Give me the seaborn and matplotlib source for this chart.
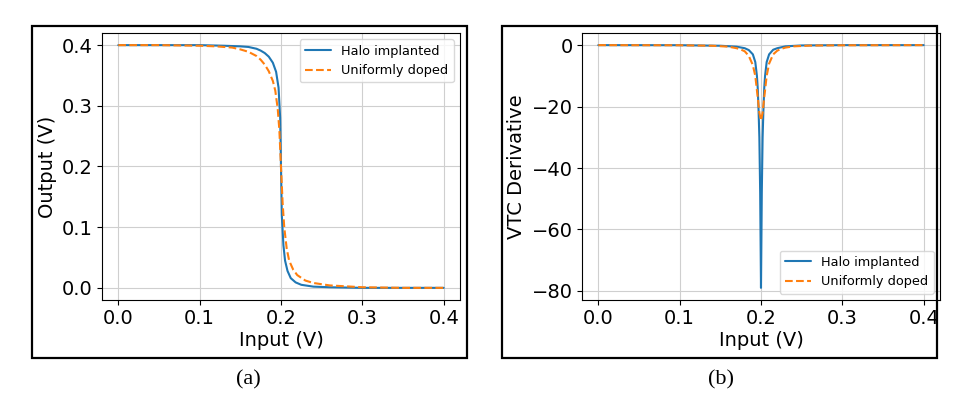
import numpy as np
import pandas as pd
import matplotlib.pyplot as plt
import seaborn as sns
from matplotlib.patches import Rectangle

# VTC, halo implanted
vtc_halo_x = [0, 0.1, 0.13, 0.15, 0.16, 0.17, 0.175, 0.18, 0.185, 0.19, 0.194, 0.197, 0.199, 0.2,
              0.201, 0.203, 0.205, 0.208, 0.212, 0.218, 0.225, 0.24, 0.26, 0.3, 0.4]
vtc_halo_y = [0.4, 0.4, 0.399, 0.398, 0.397, 0.394, 0.391, 0.387, 0.381, 0.371, 0.356, 0.33, 0.28, 0.2,
              0.12, 0.07, 0.045, 0.028, 0.016, 0.009, 0.005, 0.002, 0.001, 0.0, 0.0]

# VTC, uniformly doped
vtc_unif_x = [0, 0.05, 0.1, 0.12, 0.14, 0.15, 0.16, 0.17, 0.175, 0.18, 0.185, 0.19, 0.193, 0.196,
              0.198, 0.2, 0.202, 0.204, 0.207, 0.21, 0.215, 0.22, 0.23, 0.24, 0.26, 0.3, 0.35, 0.4]
vtc_unif_y = [0.4, 0.4, 0.399, 0.398, 0.396, 0.393, 0.389, 0.382, 0.376, 0.368, 0.357, 0.341, 0.325, 0.295,
              0.26, 0.2, 0.14, 0.1, 0.065, 0.045, 0.03, 0.021, 0.012, 0.008, 0.004, 0.001, 0.0, 0.0]

# VTC derivative, halo implanted
der_halo_x = [0, 0.1, 0.15, 0.17, 0.18, 0.185, 0.19, 0.193, 0.195, 0.196, 0.197, 0.198, 0.199, 0.2,
              0.201, 0.202, 0.203, 0.204, 0.205, 0.207, 0.21, 0.215, 0.22, 0.23, 0.25, 0.3, 0.4]
der_halo_y = [0, -0.02, -0.2, -0.5, -1, -1.6, -3, -5.5, -10, -14, -21, -30, -48, -79,
              -48, -30, -21, -14, -10, -5.5, -3, -1.5, -1, -0.4, -0.1, 0, 0]

# VTC derivative, uniformly doped
der_unif_x = [0, 0.1, 0.14, 0.16, 0.17, 0.175, 0.18, 0.185, 0.19, 0.193, 0.196, 0.198, 0.2, 0.202,
              0.204, 0.207, 0.21, 0.215, 0.22, 0.225, 0.23, 0.24, 0.26, 0.3, 0.4]
der_unif_y = [0, -0.05, -0.2, -0.5, -1, -1.4, -2, -3.5, -6.5, -10, -17, -22, -24.5, -22,
              -17, -10, -6, -3, -1.8, -1.2, -0.8, -0.4, -0.15, -0.05, 0]

labels = ['Halo implanted', 'Uniformly doped']
xticks = [0.0, 0.1, 0.2, 0.3, 0.4]

sns.set_style('ticks')
plt.rcParams['font.family'] = ['DejaVu Sans']
plt.rcParams['text.color'] = 'black'
plt.rcParams['axes.labelcolor'] = 'black'
plt.rcParams['xtick.color'] = 'black'
plt.rcParams['ytick.color'] = 'black'

fig = plt.figure(figsize=(9.77, 4.11), dpi=100)
ax_a = fig.add_axes([0.1044, 0.2701, 0.3664, 0.6496])
ax_b = fig.add_axes([0.5957, 0.2701, 0.3664, 0.6496])

sns.lineplot(x=vtc_halo_x, y=vtc_halo_y, ax=ax_a, color='#1f77b4', lw=1.5, label=labels[0])
sns.lineplot(x=vtc_unif_x, y=vtc_unif_y, ax=ax_a, color='#ff7f0e', lw=1.5, linestyle='--',
             label=labels[1])
sns.lineplot(x=der_halo_x, y=der_halo_y, ax=ax_b, color='#1f77b4', lw=1.5, label=labels[0])
sns.lineplot(x=der_unif_x, y=der_unif_y, ax=ax_b, color='#ff7f0e', lw=1.5, linestyle='--',
             label=labels[1])

ax_a.set_ylabel('Output (V)', fontsize=14)
ax_b.set_ylabel('VTC Derivative', fontsize=14)
ax_a.set_yticks([0.0, 0.1, 0.2, 0.3, 0.4])
ax_b.set_yticks([0, -20, -40, -60, -80])

for ax, loc in [(ax_a, 'upper right'), (ax_b, 'lower right')]:
    ax.set_xlabel('Input (V)', fontsize=14, labelpad=2)
    ax.set_xticks(xticks)
    ax.tick_params(labelsize=14, width=0.8, length=3.5, pad=3)
    ax.grid(True, color='#cfcfcf', linewidth=0.8)
    for s in ax.spines.values():
        s.set_color('black')
        s.set_linewidth(0.8)
    ax.legend(loc=loc, fontsize=9.3, frameon=True, framealpha=0.8, edgecolor='#d0d0d0')

# panel frames and captions
for x0 in [0.0328, 0.5138]:
    fig.patches.append(Rectangle((x0, 0.129), 0.4452, 0.8077, transform=fig.transFigure,
                                 fill=False, edgecolor='black', linewidth=1.6))
fig.text(0.254, 0.0754, '(a)', ha='center', va='center', fontsize=16, family='Liberation Serif')
fig.text(0.738, 0.0754, '(b)', ha='center', va='center', fontsize=16, family='Liberation Serif')

fig.savefig('out.png', dpi=100)
